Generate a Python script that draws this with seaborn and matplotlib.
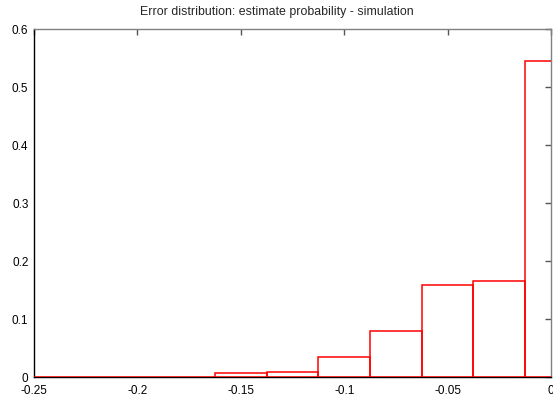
import numpy as np
import pandas as pd
import seaborn as sns
import matplotlib.pyplot as plt

# histogram of errors, bins of width 0.025 centred on multiples of 0.025
bin_centers = [-0.25, -0.225, -0.2, -0.175, -0.15, -0.125, -0.1, -0.075, -0.05, -0.025, 0.0]
probability = [0.0, 0.0, 0.0, 0.0, 0.007, 0.009, 0.035, 0.079, 0.158, 0.166, 0.545]
bin_edges = [-0.2625 + 0.025 * i for i in range(12)]

x_ticks = [-0.25, -0.2, -0.15, -0.1, -0.05, 0]
x_labels = ["-0.25", "-0.2", "-0.15", "-0.1", "-0.05", "0"]
y_ticks = [0, 0.1, 0.2, 0.3, 0.4, 0.5, 0.6]
y_labels = ["0", "0.1", "0.2", "0.3", "0.4", "0.5", "0.6"]

df = pd.DataFrame({"error": bin_centers, "p": probability})

sns.set_style("white")
plt.rcParams['font.family'] = ['Liberation Sans', 'DejaVu Sans']

fig = plt.figure(figsize=(5.53, 3.99), dpi=100)
ax = fig.add_axes([34 / 553, 22 / 399, 517 / 553, 348 / 399])

sns.histplot(data=df, x="error", weights="p", bins=bin_edges, element="bars",
             fill=False, color="#ff0000", linewidth=1.1, ax=ax, zorder=3)

ax.set_xlim(-0.25, 0)
ax.set_ylim(0, 0.6)
ax.set_xticks(x_ticks)
ax.set_xticklabels(x_labels)
ax.set_yticks(y_ticks)
ax.set_yticklabels(y_labels)
ax.set_xlabel("")
ax.set_ylabel("")
ax.tick_params(direction="in", length=4, width=1, colors="#555555", labelcolor="black",
               labelsize=8.5, top=True, right=True)
ax.tick_params(axis="x", pad=6)
ax.tick_params(axis="y", pad=4)

ax.spines["left"].set_color("black")
ax.spines["top"].set_color("#808080")
ax.spines["right"].set_color("#808080")
ax.spines["bottom"].set_color("black")
for s in ax.spines.values():
    s.set_linewidth(1)

fig.suptitle("Error distribution: estimate probability - simulation", fontsize=8.9,
             x=0.5, y=1 - 12 / 399, va="center")

fig.savefig("out.png", dpi=100)
